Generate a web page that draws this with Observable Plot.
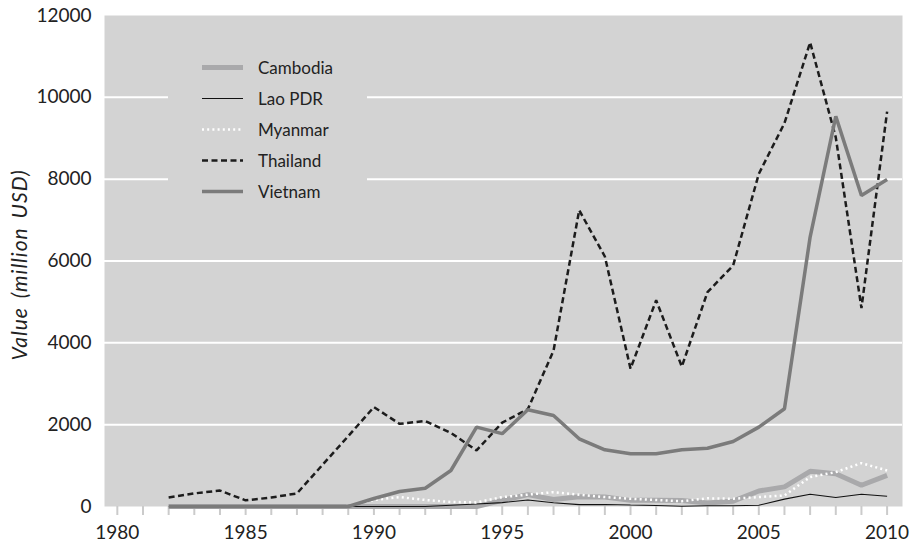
<!DOCTYPE html>
<html><head><meta charset="utf-8">
<script src="https://cdn.jsdelivr.net/npm/d3@7"></script>
<script src="https://cdn.jsdelivr.net/npm/@observablehq/plot@0.6"></script>
<style>
body{margin:0;background:#fff;font-family:Lato,"DejaVu Sans",sans-serif;}
</style></head><body>
<div id="chart"></div>
<script>
const years = d3.range(1982, 2011);
const cambodia = [0,0,0,0,0,0,0,0,0,0,0,0,0,150,290,170,240,230,150,150,145,85,130,380,480,860,800,520,760];
const laoPDR   = [0,0,0,0,0,0,0,0,0,0,0,30,60,95,160,90,45,50,35,25,5,20,20,30,180,300,220,300,250];
const myanmar  = [0,0,0,0,0,0,0,10,160,230,160,110,100,230,290,350,290,230,190,160,130,200,190,230,270,720,840,1060,880];
const thailand = [220,320,390,150,220,320,1020,1720,2430,2020,2090,1800,1370,2050,2380,3810,7240,6110,3370,5040,3420,5240,5890,8130,9370,11340,9020,4850,9650];
const vietnam  = [0,0,0,0,0,0,0,0,195,367,447,880,1940,1780,2365,2225,1655,1385,1290,1290,1385,1425,1590,1940,2390,6585,9535,7600,7990];
const seriesNames = ["Cambodia","Lao PDR","Myanmar","Thailand","Vietnam"];
const yTicks = [0,2000,4000,6000,8000,10000,12000];
const gridValues = [2000,4000,6000,8000,10000];
const xLabelYears = [1980,1985,1990,1995,2000,2005,2010];
const xTickYears = d3.range(1980, 2011);

const styles = {
  "Cambodia": {stroke:"#a9a9ab", strokeWidth:5, dash:null},
  "Lao PDR": {stroke:"#111", strokeWidth:1.1, dash:null},
  "Myanmar": {stroke:"#ffffff", strokeWidth:2.5, dash:"2,3.2"},
  "Thailand": {stroke:"#1c1c1c", strokeWidth:2.5, dash:"6,3.5"},
  "Vietnam": {stroke:"#7b7b7b", strokeWidth:3.5, dash:null}
};
const valuesByName = {"Cambodia":cambodia,"Lao PDR":laoPDR,"Myanmar":myanmar,"Thailand":thailand,"Vietnam":vietnam};
const rows = n => years.map((y,i)=>({year:y, value:valuesByName[n][i]}));

const lineMarks = seriesNames.map(n => Plot.line(rows(n), {
  x:"year", y:"value", stroke: styles[n].stroke, strokeWidth: styles[n].strokeWidth,
  strokeDasharray: styles[n].dash || undefined, strokeLinejoin:"miter", strokeLinecap:"butt"
}));

const plot = Plot.plot({
  width:915, height:545,
  marginLeft:104, marginRight:13, marginTop:15, marginBottom:39,
  style:{fontFamily:"Lato, 'DejaVu Sans', sans-serif", fontSize:"19px", color:"#222", background:"#fff"},
  x:{domain:[1979.5,2010.6]},
  y:{domain:[0,12000]},
  marks:[
    Plot.frame({fill:"#d3d3d3", stroke:null}),
    Plot.ruleY(gridValues, {stroke:"#fff", strokeWidth:2}),
    Plot.axisX(xTickYears, {tickSize:9, tickFormat:()=>"", stroke:"#cbcbcb", strokeWidth:2, tickPadding:0, label:null}),
    Plot.axisX(xLabelYears, {tickSize:0, tickPadding:19, tickFormat:d=>String(d), fill:"#222", fontSize:19, label:null}),
    Plot.axisY(yTicks, {tickSize:0, tickPadding:13, tickFormat:d=>String(d), fill:"#222", fontSize:19, label:null}),
    ...lineMarks
  ]
});
const wrap = document.getElementById("chart");
wrap.appendChild(plot);

// y-axis title and legend added into the SVG
const svg = d3.select(plot);
svg.append("text")
  .attr("transform","translate(27,265) rotate(-90)")
  .attr("text-anchor","middle")
  .style("font-style","italic")
  .style("font-size","21px")
  .style("letter-spacing","1px")
  .style("word-spacing","3px")
  .attr("fill","#222")
  .text("Value (million USD)");

const lg = svg.append("g");
lg.append("rect").attr("x",168).attr("y",45).attr("width",199).attr("height",168).attr("fill","#d3d3d3");
seriesNames.forEach((n,i)=>{
  const yy = 67.5 + i*31;
  const s = styles[n];
  lg.append("line").attr("x1",202).attr("x2",243).attr("y1",yy).attr("y2",yy)
    .attr("stroke",s.stroke).attr("stroke-width",s.strokeWidth)
    .attr("stroke-dasharray", s.dash || null);
  lg.append("text").attr("x",258).attr("y",yy).attr("dy","0.36em")
    .attr("text-anchor","start")
    .style("font-size","17px").attr("fill","#222").text(n);
});
</script>
</body></html>
